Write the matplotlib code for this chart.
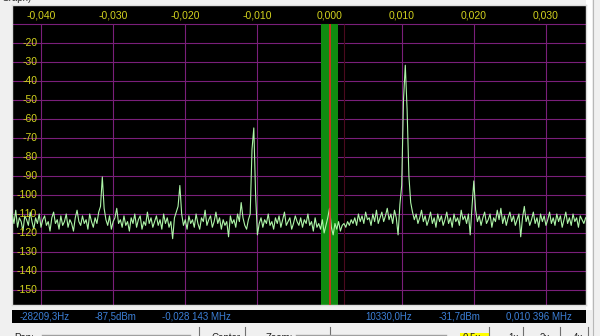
import numpy as np
import matplotlib
matplotlib.use("Agg")
import matplotlib.pyplot as plt
from matplotlib.patches import Rectangle

plt.rcParams['font.family'] = ['Liberation Sans', 'DejaVu Sans']

W, H = 600, 336

# spectrum bins (MHz offset from centre), first bin and spacing
F_START = -0.0440
F_STEP = 0.00025
level_dbm = [
    -110, -115, -108, -117, -112, -114, -119, -111, -113, -116, -109, -114, -118, -112, -115, -110, -117, -113, -111, -116,
    -114, -119, -112, -109, -115, -113, -118, -111, -116, -114, -110, -117, -113, -115, -119, -112, -108, -114, -116, -111,
    -115, -113, -118, -110, -114, -117, -112, -115, -109, -106, -90.5, -107, -113, -116, -111, -118, -114, -112, -107, -115,
    -113, -117, -111, -116, -114, -119, -112, -115, -110, -117, -113, -111, -118, -114, -116, -109, -115, -112, -117, -114,
    -111, -116, -113, -118, -110, -115, -112, -117, -114, -123, -112, -109, -106, -95, -110, -116, -113, -118, -111, -115,
    -113, -117, -110, -115, -118, -112, -114, -108, -116, -113, -111, -117, -114, -109, -115, -112, -118, -113, -116, -114,
    -122, -111, -115, -113, -117, -110, -114, -104, -112, -116, -118, -113, -110, -76, -64.7, -100, -121, -115, -112, -117,
    -113, -115, -110, -116, -114, -118, -112, -115, -111, -117, -113, -109, -116, -114, -112, -118, -115, -111, -114, -116,
    -112, -117, -113, -115, -110, -116, -114, -119, -112, -117, -115, -118, -113, -120, -116, -112, -107, -117, -121, -115,
    -118, -114, -119, -116, -115, -117, -114, -116, -113, -115, -112, -116, -110, -114, -111, -115, -109, -113, -112, -116,
    -110, -114, -108, -115, -112, -109, -114, -111, -107, -113, -110, -115, -108, -112, -121, -105, -95, -50, -31.7, -55,
    -90, -104, -109, -113, -110, -115, -112, -108, -114, -111, -116, -113, -109, -115, -112, -117, -110, -114, -111, -116,
    -113, -109, -115, -112, -117, -110, -114, -112, -116, -108, -113, -111, -115, -110, -121, -106, -92.6, -108, -114, -111,
    -116, -112, -109, -115, -113, -110, -117, -112, -114, -108, -113, -107, -115, -111, -116, -112, -109, -114, -111, -116,
    -113, -110, -122, -112, -106, -114, -111, -116, -113, -109, -115, -112, -117, -110, -114, -111, -116, -113, -109, -115,
    -112, -116, -110, -114, -111, -117, -113, -109, -115, -112, -116, -110, -114, -112, -117, -111, -113, -115, -112,
]

x_ticks = [-0.040, -0.030, -0.020, -0.010, 0.000, 0.010, 0.020, 0.030]
x_tick_labels = ["-0,040", "-0,030", "-0,020", "-0,010", "0,000", "0,010", "0,020", "0,030"]
y_ticks = [-20, -30, -40, -50, -60, -70, -80, -90, -100, -110, -120, -130, -140, -150]
grid_top = -10

status_left = ["-28209,3Hz", "-87,5dBm", "-0,028 143 MHz"]
status_right = ["10330,0Hz", "-31,7dBm", "0,010 396 MHz"]
toolbar_labels = ["Pan:", "Center", "Zoom:", "0.5x", "1x", "2x", "4x"]

XLIM = (-0.04402, 0.03555)
YLIM = (-157.9, 0)

GRID = "#7a1f7a"
LABEL = "#d2d21e"
BLUE = "#3d80d8"
BG = "#f0f0f0"

fig = plt.figure(figsize=(W / 100, H / 100), dpi=100, facecolor=BG)

# window chrome in pixel coordinates
chrome = fig.add_axes([0, 0, 1, 1])
chrome.set_xlim(0, W)
chrome.set_ylim(H, 0)
chrome.set_axis_off()
chrome.text(2, 3, "Graph)", fontsize=7, color="#303030", va="bottom", ha="left")
chrome.add_patch(Rectangle((586, 0), 6, 310, color="white", lw=0))
chrome.plot([593, 593], [0, 336], color="#b8b8b8", lw=0.8)
chrome.add_patch(Rectangle((12, 310), 574, 13, color="black", lw=0))
for x, s in zip([20, 95, 162], status_left):
    chrome.text(x, 316.5, s, fontsize=7, color=BLUE, va="center", ha="left")
for x, s in zip([365, 439, 506], status_right):
    chrome.text(x, 316.5, s, fontsize=7, color=BLUE, va="center", ha="left")

# bottom toolbar (mostly cut off by the window edge)
chrome.add_patch(Rectangle((460, 333), 29, 4, color="#ffff00", lw=0))
for x, s in zip([14, 212, 266, 463, 508, 540, 573], toolbar_labels):
    chrome.text(x, 333.3, s, fontsize=7, color="#202020", va="top", ha="left")
for x in [199, 245, 330, 489, 523, 560, 588]:
    chrome.plot([x, x], [327, 336], color="#707070", lw=0.8)
chrome.plot([42, 190], [335.3, 335.3], color="#a0a0a0", lw=1)
chrome.plot([296, 446], [335.3, 335.3], color="#a0a0a0", lw=1)

# spectrum panel
ax = fig.add_axes([12 / W, (H - 305) / H, 574 / W, 300 / H])
ax.set_facecolor("black")
ax.set_xlim(*XLIM)
ax.set_ylim(*YLIM)
ax.set_xticks([])
ax.set_yticks([])
for sp in ax.spines.values():
    sp.set_color("#dcdcdc")
    sp.set_linewidth(1)

ax.hlines([grid_top] + y_ticks, XLIM[0], XLIM[1], color=GRID, lw=0.8, zorder=1)
ax.vlines(x_ticks, YLIM[0], grid_top, color=GRID, lw=0.8, zorder=1)
ax.vlines([0.0020], YLIM[0], grid_top, color="#4a0a1e", lw=0.8, zorder=1)

# receive filter passband and tuning marker
ax.fill_betweenx([YLIM[0], grid_top], -0.00118, 0.00112, color="#108c10", lw=0, zorder=2)

freqs = F_START + F_STEP * np.arange(len(level_dbm))
ax.plot(freqs, level_dbm, color="#aef5a8", lw=0.8, zorder=3)

ax.vlines([0.0], YLIM[0], grid_top, color="#e8281e", lw=1.2, zorder=4)

for f, s in zip(x_ticks, x_tick_labels):
    ax.text(f, -5.3, s, fontsize=7.5, color=LABEL, ha="center", va="center")
for lv in y_ticks:
    ax.text(-0.04052, lv, str(lv), fontsize=7.5, color=LABEL, ha="right", va="center", zorder=5)

fig.savefig("out.png", dpi=100, facecolor=BG)
